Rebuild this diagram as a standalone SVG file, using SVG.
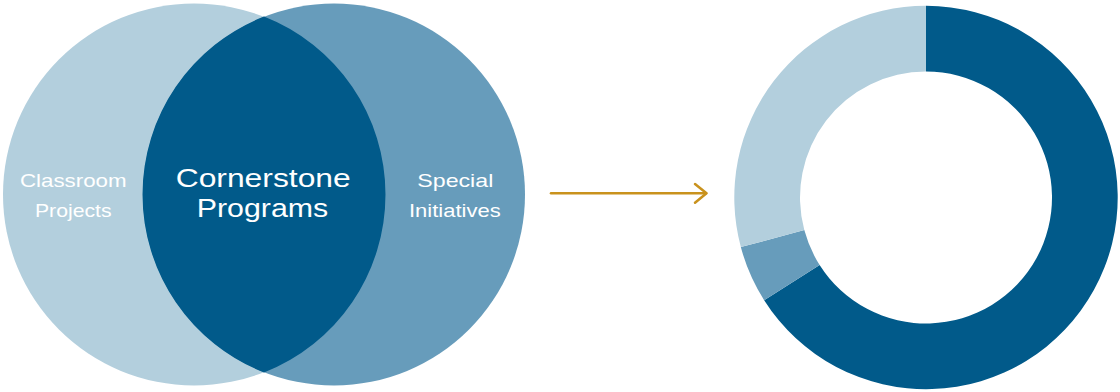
<svg xmlns="http://www.w3.org/2000/svg" width="1120" height="392" viewBox="0 0 1120 392">
  <style>
    .lbl { font-family: "Liberation Sans", Arial, sans-serif; font-weight: 400; fill: #ffffff; text-anchor: middle; }
    .sm { font-size: 19px; }
    .lg { font-size: 26.5px; }
    .light { fill: #b3cfdd; }
    .mid { fill: #679cbb; }
    .dark { fill: #015a8a; }
    .conn { stroke: #c9921d; stroke-width: 2.5; fill: none; stroke-linecap: round; stroke-linejoin: round; }
  </style>
  <rect width="1120" height="392" fill="#ffffff"/>
  <g id="classroom-projects">
    <circle class="light" cx="194" cy="194.5" r="191"/>
  </g>
  <g id="special-initiatives">
    <circle class="mid" cx="334" cy="194.5" r="191"/>
  </g>
  <g id="cornerstone-programs">
    <path class="dark" d="M 264 16.6 A 191 191 0 0 1 264 372.4 A 191 191 0 0 1 264 16.6 Z"/>
  </g>
  <g id="venn-labels">
    <text class="lbl sm" x="73.3" y="187.3" textLength="106.7" lengthAdjust="spacingAndGlyphs">Classroom</text>
    <text class="lbl sm" x="73.3" y="217.3" textLength="76.7" lengthAdjust="spacingAndGlyphs">Projects</text>
    <text class="lbl lg" x="263.2" y="187.3" textLength="175" lengthAdjust="spacingAndGlyphs">Cornerstone</text>
    <text class="lbl lg" x="262.5" y="217.3" textLength="131.6" lengthAdjust="spacingAndGlyphs">Programs</text>
    <text class="lbl sm" x="455.3" y="187.3" textLength="76" lengthAdjust="spacingAndGlyphs">Special</text>
    <text class="lbl sm" x="454.8" y="217.3" textLength="91.7" lengthAdjust="spacingAndGlyphs">Initiatives</text>
  </g>
  <g id="connectors">
    <path class="conn" d="M 551 193.3 L 706 193.3"/>
    <path class="conn" d="M 695 184 L 706.5 193.3 L 695 202.8"/>
  </g>
  <g id="donut">
    <path id="seg-dark" class="dark" d="M 926 5.8 A 191.7 191.7 0 1 1 764.15 300.21 L 819.62 265.01 A 126 126 0 1 0 926 71.5 Z"/>
    <path id="seg-mid" class="mid" d="M 764.15 300.21 A 191.7 191.7 0 0 1 740.83 247.11 L 804.3 230.11 A 126 126 0 0 0 819.62 265.01 Z"/>
    <path id="seg-light" class="light" d="M 740.83 247.11 A 191.7 191.7 0 0 1 926 5.8 L 926 71.5 A 126 126 0 0 0 804.3 230.11 Z"/>
  </g>
</svg>
